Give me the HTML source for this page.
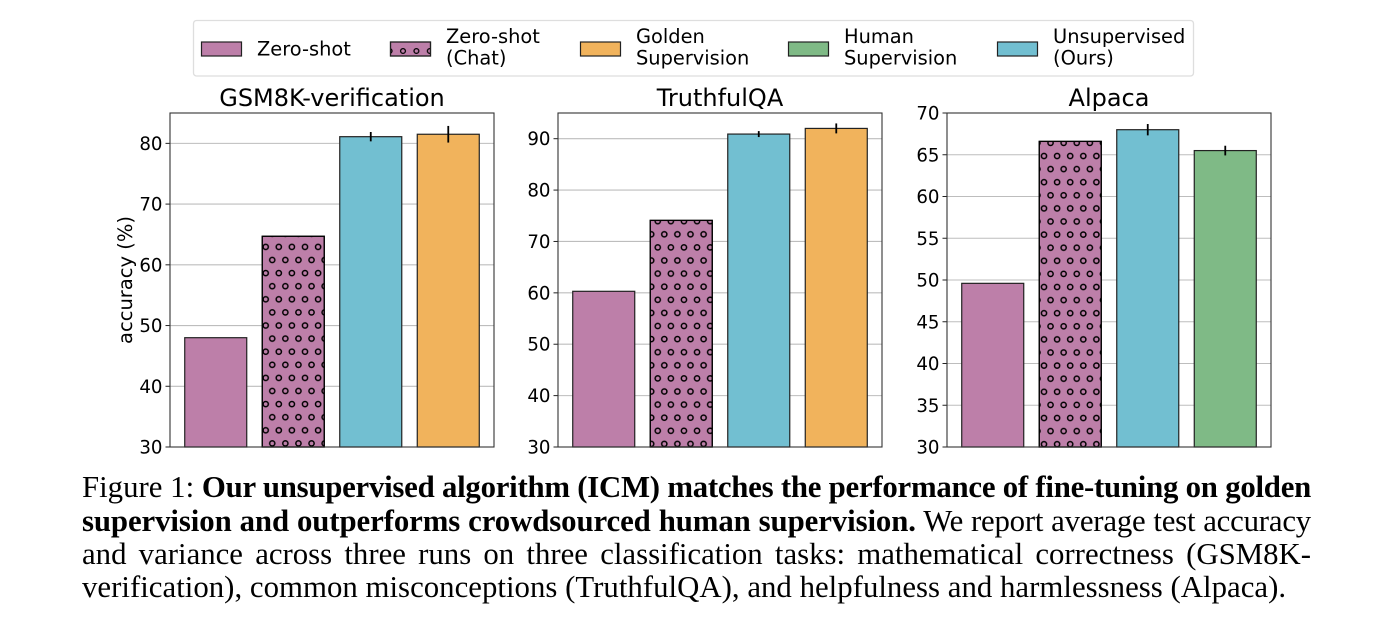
<!DOCTYPE html>
<html lang="en">
<head>
<meta charset="utf-8">
<title>Figure 1: accuracy comparison</title>
<style>
html,body{margin:0;padding:0;background:#fff;width:1391px;height:642px;overflow:hidden}
#figure{position:absolute;left:0;top:0;width:1391px;height:642px}
svg{position:absolute;left:0;top:0}
svg text{font-family:"DejaVu Sans","Liberation Sans",sans-serif;fill:#000}
.cap{position:absolute;left:82px;width:1229px;font-family:"Liberation Serif",serif;font-size:30.8px;line-height:34px;height:34px;color:#000;white-space:nowrap;text-align:justify;text-align-last:justify}
.cap.last{text-align:left;text-align-last:left;letter-spacing:.02px}
.l1 b{letter-spacing:-.25px}
.l2{letter-spacing:-.2px}
.l2 b{letter-spacing:-.09px}
</style>
</head>
<body>
<div id="figure">
<svg id="chart" width="1391" height="642" viewBox="0 0 1391 642" xmlns="http://www.w3.org/2000/svg">
  <defs id="defs"></defs>
  <g id="panels"></g>
  <g>
    <rect x="193.5" y="20.5" width="1000" height="55.5" rx="3" fill="#fff" stroke="#dedede" stroke-width="1.3"/>
    <g id="legend-entries"></g>
  </g>
</svg>
<div class="cap l1" style="top:470px">Figure 1: <b>Our unsupervised algorithm (ICM) matches the performance of fine-tuning on golden</b></div>
<div class="cap l2" style="top:504px"><b>supervision and outperforms crowdsourced human supervision.</b> We report average test accuracy</div>
<div class="cap" style="top:537px">and variance across three runs on three classification tasks: mathematical correctness (GSM8K-</div>
<div class="cap last" style="top:570px">verification), common misconceptions (TruthfulQA), and helpfulness and harmlessness (Alpaca).</div>
</div>
<script>
// ---- chart data ----
const panelTitles = ["GSM8K-verification", "TruthfulQA", "Alpaca"];
const gsmCategories = ["Zero-shot", "Zero-shot (Chat)", "Unsupervised (Ours)", "Golden Supervision"];
const truthfulCategories = ["Zero-shot", "Zero-shot (Chat)", "Unsupervised (Ours)", "Golden Supervision"];
const alpacaCategories = ["Zero-shot", "Zero-shot (Chat)", "Unsupervised (Ours)", "Human Supervision"];
const gsmValues = [48, 64.7, 81.1, 81.5];
const truthfulValues = [60.3, 74.1, 90.9, 92];
const alpacaValues = [49.6, 66.6, 68, 65.5];
const gsmErrors = [0, 0, 0.77, 1.37];
const truthfulErrors = [0, 0, 0.58, 0.97];
const alpacaErrors = [0, 0, 0.68, 0.58];
const gsmTicks = [30, 40, 50, 60, 70, 80];
const truthfulTicks = [30, 40, 50, 60, 70, 80, 90];
const alpacaTicks = [30, 35, 40, 45, 50, 55, 60, 65, 70];
const gsmYMax = 85;
const truthfulYMax = 95;
const alpacaYMax = 70;
const legendLabels = [["Zero-shot"], ["Zero-shot", "(Chat)"], ["Golden", "Supervision"], ["Human", "Supervision"], ["Unsupervised", "(Ours)"]];
const legendKinds = ["Zero-shot", "Zero-shot (Chat)", "Golden Supervision", "Human Supervision", "Unsupervised (Ours)"];

// ---- styling and layout ----
const NS = "http://www.w3.org/2000/svg";
const colorFor = {
  "Zero-shot": "#BD7FA9",
  "Zero-shot (Chat)": "#BD7FA9",
  "Golden Supervision": "#F1B35C",
  "Human Supervision": "#7FBA86",
  "Unsupervised (Ours)": "#72BFD1"
};
const plotTop = 113, plotBottom = 447, plotWidth = 324, yMin = 30;
const xDomainStart = -0.59, xDomainEnd = 3.59, barWidth = 0.8;
const HATCH_DX = 13.1, HATCH_DY = 13.1;

function make(tag, attrs, parent) {
  const el = document.createElementNS(NS, tag);
  for (const k in attrs) el.setAttribute(k, attrs[k]);
  if (parent) parent.appendChild(el);
  return el;
}
function slug(s) {
  return s.toLowerCase().replace(/[^a-z0-9]+/g, "-").replace(/^-|-$/g, "");
}
function makeHatch(id, cx, cy) {
  const defs = document.getElementById("defs");
  const p = make("pattern", {
    id: id, patternUnits: "userSpaceOnUse",
    x: cx - HATCH_DX / 2, y: cy - HATCH_DY / 2,
    width: HATCH_DX, height: HATCH_DY * 2
  }, defs);
  const dots = [[HATCH_DX / 2, HATCH_DY / 2], [0, HATCH_DY * 1.5], [HATCH_DX, HATCH_DY * 1.5]];
  dots.forEach(function (d) {
    make("circle", { cx: d[0], cy: d[1], r: 2.6, fill: "none", stroke: "#000", "stroke-width": 1.5 }, p);
  });
}

function drawPanel(cfg) {
  const root = document.getElementById("panels");
  const g = make("g", {}, root);
  
  

  const xScale = function (v) { return cfg.left + (v - xDomainStart) / (xDomainEnd - xDomainStart) * plotWidth; };
  const yScale = function (v) { return plotBottom - (v - yMin) / (cfg.yMax - yMin) * (plotBottom - plotTop); };

  // grid + ticks
  cfg.ticks.forEach(function (t) {
    const y = yScale(t);
    const grid = make("line", { x1: cfg.left, x2: cfg.left + plotWidth, y1: y, y2: y, stroke: "#bdbdbd", "stroke-width": 1.1 }, g);
    
    
    const tick = make("line", { x1: cfg.left - 4.5, x2: cfg.left, y1: y, y2: y, stroke: "#222", "stroke-width": 1 }, g);
    
    
    const lab = make("text", { x: cfg.left - 7.5, y: y + 6.5, "text-anchor": "end", "font-size": 18.2 }, g);
    lab.textContent = String(t);
    
    
  });

  // bars
  cfg.values.forEach(function (v, i) {
    const cat = cfg.categories[i];
    const x0 = xScale(i - barWidth / 2), x1 = xScale(i + barWidth / 2);
    const yTop = yScale(v);
    const bar = make("rect", {
      x: x0, y: yTop, width: x1 - x0, height: plotBottom - yTop,
      fill: colorFor[cat], stroke: "#222", "stroke-width": 1.2
    }, g);
    
    
    if (cat === "Zero-shot (Chat)") {
      const hatch = make("rect", {
        x: x0, y: yTop, width: x1 - x0, height: plotBottom - yTop,
        fill: "url(#" + cfg.hatchId + ")", stroke: "#000", "stroke-width": 1.3
      }, g);
      
      
    }
    const e = cfg.errors[i];
    if (e > 0) {
      const xm = xScale(i);
      const err = make("line", { x1: xm, x2: xm, y1: yScale(v - e), y2: yScale(v + e), stroke: "#000", "stroke-width": 1.8 }, g);
      
      
    }
  });

  // frame
  const frame = make("rect", { x: cfg.left, y: plotTop, width: plotWidth, height: plotBottom - plotTop, fill: "none", stroke: "#333", "stroke-width": 1.1 }, g);
  
  

  // title
  const title = make("text", { x: cfg.left + plotWidth / 2, y: 106, "text-anchor": "middle", "font-size": 24 }, g);
  title.textContent = cfg.title;
  
  
}

makeHatch("hatch-gsm", 265.7, 351.7);
makeHatch("hatch-truthful", 664.3, 234.3);
makeHatch("hatch-alpaca", 1044, 156);

drawPanel({ title: panelTitles[0], left: 170, yMax: gsmYMax, ticks: gsmTicks, categories: gsmCategories, values: gsmValues, errors: gsmErrors, hatchId: "hatch-gsm" });
drawPanel({ title: panelTitles[1], left: 558, yMax: truthfulYMax, ticks: truthfulTicks, categories: truthfulCategories, values: truthfulValues, errors: truthfulErrors, hatchId: "hatch-truthful" });
drawPanel({ title: panelTitles[2], left: 947, yMax: alpacaYMax, ticks: alpacaTicks, categories: alpacaCategories, values: alpacaValues, errors: alpacaErrors, hatchId: "hatch-alpaca" });

// y axis title
const yTitle = make("text", { transform: "translate(132 280) rotate(-90)", "text-anchor": "middle", "font-size": 19.5 }, document.getElementById("panels"));
yTitle.textContent = "accuracy (%)";



// legend
const legendRoot = document.getElementById("legend-entries");
const legendSwatchX = [201, 390, 580, 788, 997];
makeLegendHatch();
function makeLegendHatch() {
  const defs = document.getElementById("defs");
  const p = make("pattern", { id: "hatch-legend", patternUnits: "userSpaceOnUse", x: 396.5, y: 42, width: 13.4, height: 15 }, defs);
  make("circle", { cx: 6.5, cy: 9, r: 2.4, fill: "none", stroke: "#000", "stroke-width": 1.3 }, p);
}
legendLabels.forEach(function (lines, i) {
  const kind = legendKinds[i];
  const entry = make("g", {}, legendRoot);
  
  
  const sx = legendSwatchX[i];
  const sw = make("rect", { x: sx + 0.5, y: 42, width: 40, height: 14, fill: colorFor[kind], stroke: "#222", "stroke-width": 1.2 }, entry);
  
  
  if (kind === "Zero-shot (Chat)") {
    const h = make("rect", { x: sx + 0.5, y: 42, width: 40, height: 14, fill: "url(#hatch-legend)", stroke: "#222", "stroke-width": 1.2 }, entry);
    
    
  }
  lines.forEach(function (line, j) {
    const baseline = lines.length === 1 ? 55.5 : 43 + j * 21.7;
    const t = make("text", { x: sx + 56, y: baseline, "font-size": 19.4 }, entry);
    t.textContent = line;
    
    
  });
});
</script>
</body>
</html>
